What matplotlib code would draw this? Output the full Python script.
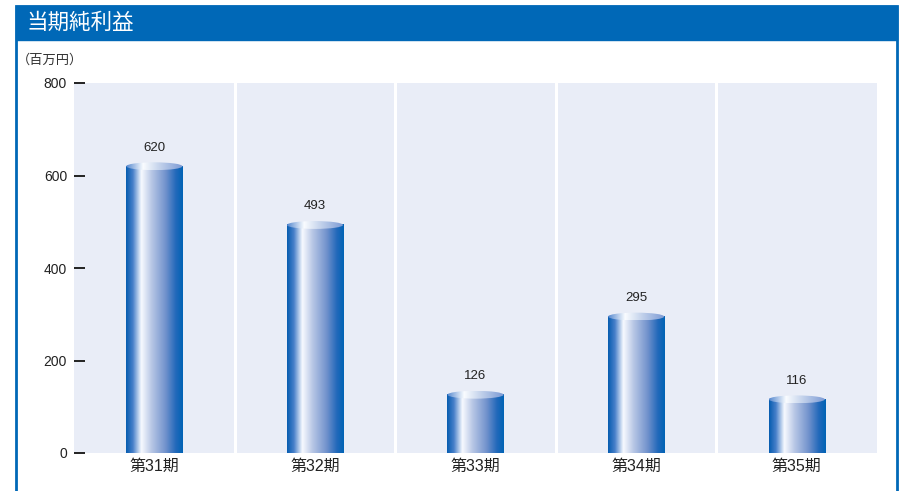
import matplotlib.pyplot as plt
import numpy as np
from matplotlib.colors import LinearSegmentedColormap
from matplotlib.patches import Rectangle, Ellipse

plt.rcParams['font.family'] = ['Liberation Sans', 'Noto Sans CJK JP', 'DejaVu Sans']

categories = ['第31期', '第32期', '第33期', '第34期', '第35期']
values = [620, 493, 126, 295, 116]
yticks = [0, 200, 400, 600, 800]

blue = '#0068b7'
bg = '#e9edf7'

body = LinearSegmentedColormap.from_list('body', [
    (0.0, (0.02, 0.36, 0.69)),
    (0.12, (0.28, 0.50, 0.79)),
    (0.27, (0.97, 0.98, 1.0)),
    (0.45, (0.72, 0.78, 0.90)),
    (0.70, (0.44, 0.57, 0.80)),
    (0.88, (0.13, 0.41, 0.73)),
    (1.0, (0.0, 0.39, 0.71)),
])
cap = LinearSegmentedColormap.from_list('cap', [
    (0.0, (0.33, 0.53, 0.81)),
    (0.30, (0.98, 0.99, 1.0)),
    (0.60, (0.76, 0.82, 0.92)),
    (1.0, (0.48, 0.60, 0.83)),
])
grad = np.linspace(0, 1, 256).reshape(1, -1)

fig = plt.figure(figsize=(9.02, 4.91), dpi=100)

# outer frame and header band
fig.patches.append(Rectangle((16 / 902, -0.05), 881 / 902, 1.05 - 6 / 491,
                             transform=fig.transFigure, fill=False,
                             edgecolor=blue, linewidth=2))
fig.patches.append(Rectangle((16 / 902, 1 - 40 / 491), 881 / 902, 34 / 491,
                             transform=fig.transFigure, facecolor=blue,
                             edgecolor=blue, linewidth=1))
fig.text(27 / 902, 1 - 23 / 491, '当期純利益', color='white', fontsize=15.5,
         va='center', ha='left')
fig.text(17 / 902, 1 - 60 / 491, '（百万円）', color='#333333', fontsize=9.5,
         va='center', ha='left')

ax = fig.add_axes([74 / 902, 38 / 491, 803 / 902, 370 / 491])
ax.set_facecolor(bg)
n = len(categories)
for s in ax.spines.values():
    s.set_visible(False)

for i in range(1, n):
    ax.axvline(i - 0.5, color='white', linewidth=2.2, zorder=1)

w = 0.35
cap_h = 17
for i, v in enumerate(values):
    ax.imshow(grad, cmap=body, aspect='auto', extent=(i - w / 2, i + w / 2, 0, v),
              zorder=2, interpolation='bilinear')
    el = Ellipse((i, v), w, cap_h, facecolor='none', edgecolor='none', zorder=3)
    ax.add_patch(el)
    im = ax.imshow(grad, cmap=cap, aspect='auto',
                   extent=(i - w / 2, i + w / 2, v - cap_h / 2, v + cap_h / 2),
                   zorder=3, interpolation='bilinear')
    im.set_clip_path(el)
    ax.text(i, v + 40, str(v), ha='center', va='center', fontsize=9.5,
            color='#222222')

ax.set_xlim(-0.5, n - 0.5)
ax.set_ylim(0, 800)
ax.set_xticks(range(n))
ax.set_xticklabels(categories, fontsize=11.5, color='#222222')
ax.tick_params(axis='x', length=0, pad=4)
ax.set_yticks(yticks)
ax.set_yticklabels([str(t) for t in yticks], fontsize=10, color='#222222')
ax.tick_params(axis='y', direction='in', length=8, width=1.4, color='#222222', pad=5)

fig.savefig('out.png', dpi=100)
